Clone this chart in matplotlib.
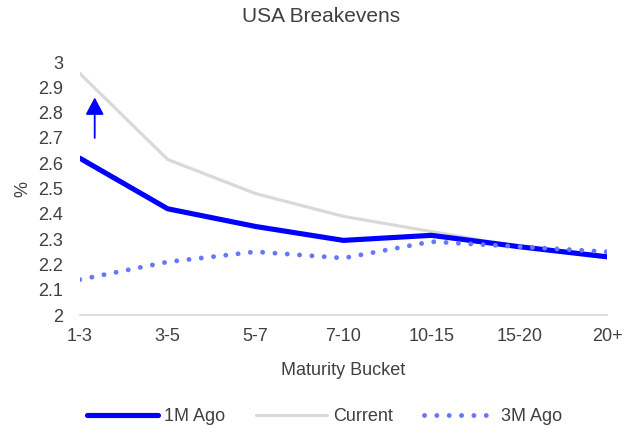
import matplotlib.pyplot as plt

plt.rcParams['font.family'] = ['Liberation Sans', 'DejaVu Sans']

buckets = ['1-3', '3-5', '5-7', '7-10', '10-15', '15-20', '20+']
one_m_ago = [2.62, 2.42, 2.35, 2.295, 2.315, 2.27, 2.23]
current = [2.955, 2.615, 2.48, 2.39, 2.33, 2.27, 2.235]
three_m_ago = [2.14, 2.21, 2.25, 2.225, 2.29, 2.27, 2.25]

text_col = '#404040'

fig = plt.figure(figsize=(6.33, 4.28), dpi=100)
ax = fig.add_axes([0.126, 0.264, 0.833, 0.591])

x = list(range(len(buckets)))
ax.plot(x, one_m_ago, color='#0000FF', lw=3.7, solid_capstyle='round', label='1M Ago', zorder=3)
ax.plot(x, current, color='#D9D9D9', lw=2.3, solid_capstyle='round', label='Current', zorder=2)
ax.plot(x, three_m_ago, color='#6677FF', lw=3.5, linestyle=(0, (0.01, 2.53)),
        dash_capstyle='round', label='3M Ago', zorder=4)

# arrow marking the move up
ax.annotate('', xy=(0.17, 2.86), xytext=(0.17, 2.70),
            arrowprops=dict(arrowstyle='-|>,head_length=0.75,head_width=0.4',
                            color='#0000FF', lw=1.3, mutation_scale=14,
                            shrinkA=0, shrinkB=0))

ax.set_xlim(0, len(buckets) - 1)
ax.set_ylim(2, 3)
ax.set_xticks(x)
ax.set_xticklabels(buckets)
ax.set_yticks([2 + 0.1 * i for i in range(11)])
ax.set_yticklabels(['2', '2.1', '2.2', '2.3', '2.4', '2.5', '2.6', '2.7', '2.8', '2.9', '3'])
ax.tick_params(length=0, labelsize=13, colors=text_col)
ax.tick_params(axis='x', pad=9.5)
ax.tick_params(axis='y', pad=12)

for s in ['top', 'right', 'left']:
    ax.spines[s].set_visible(False)
ax.spines['bottom'].set_color('#D9D9D9')
ax.spines['bottom'].set_linewidth(1.2)

ax.set_xlabel('Maturity Bucket', fontsize=13, color=text_col, labelpad=12)
ax.set_ylabel('%', fontsize=13, color=text_col)
ax.yaxis.set_label_coords(-0.091, 0.5)
fig.text(0.507, 0.962, 'USA Breakevens', fontsize=15, color=text_col,
         ha='center', va='center')

fig.legend(loc='center', bbox_to_anchor=(0.513, 0.026), ncol=3, frameon=False,
           fontsize=13, handlelength=3.95, columnspacing=1.7, handletextpad=0.33,
           labelcolor=text_col)

plt.savefig('out.png', dpi=100)
